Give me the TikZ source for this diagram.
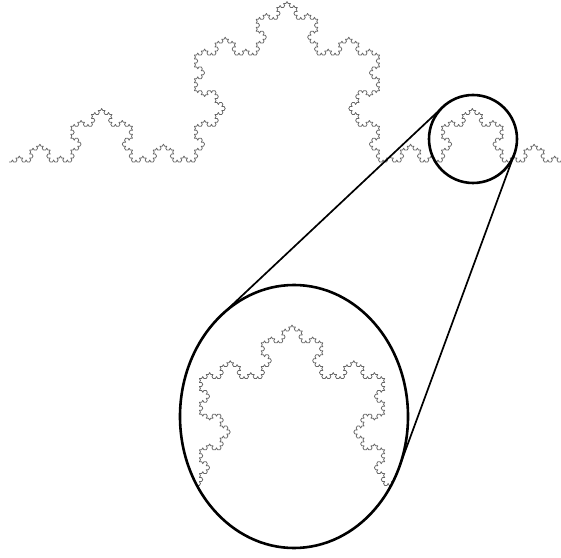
\documentclass[tikz,border=0pt]{standalone}
\usetikzlibrary{lindenmayersystems}

\pgfdeclarelindenmayersystem{Koch}{\rule{F -> F+F--F+F}}

\tikzset{
  koch/.style={draw=black!60, line width=0.75pt, line join=round,
    l-system={Koch, axiom=F, order=5, angle=60, step=2.288pt}},
  fine koch/.style={koch, l-system={order=6, step=0.7627pt}},
  lens/.style={line width=2.6pt},
  ray/.style={line width=1.7pt}
}

\begin{document}
\begin{tikzpicture}[x=1pt,y=1pt]
  \useasboundingbox (0,0) rectangle (561,557);
  % small lens on the curve, big lens below, tangent points of the rays
  \coordinate (C) at (473,418); \coordinate (E) at (294,140.5);
  \coordinate (CL) at (442.9,450.1); \coordinate (CR) at (514.3,402.8);
  \coordinate (EL) at (222,242.5); \coordinate (ER) at (399,89.1);

  % the curve starts at its own origin, so move it there
  \draw[koch, xshift=9pt, yshift=395pt] lindenmayer system;

  \begin{scope}
    \clip (E) ellipse [x radius=114, y radius=131.5];
    \draw[fine koch, xshift=294pt, yshift=140.5pt, scale=3,
      xshift=-464pt, yshift=-23pt] lindenmayer system;
  \end{scope}

  \draw[ray] (CL) -- (EL) (CR) -- (ER);
  \draw[lens] (C) circle [radius=44];
  \draw[lens] (E) ellipse [x radius=114, y radius=131.5];
\end{tikzpicture}
\end{document}
